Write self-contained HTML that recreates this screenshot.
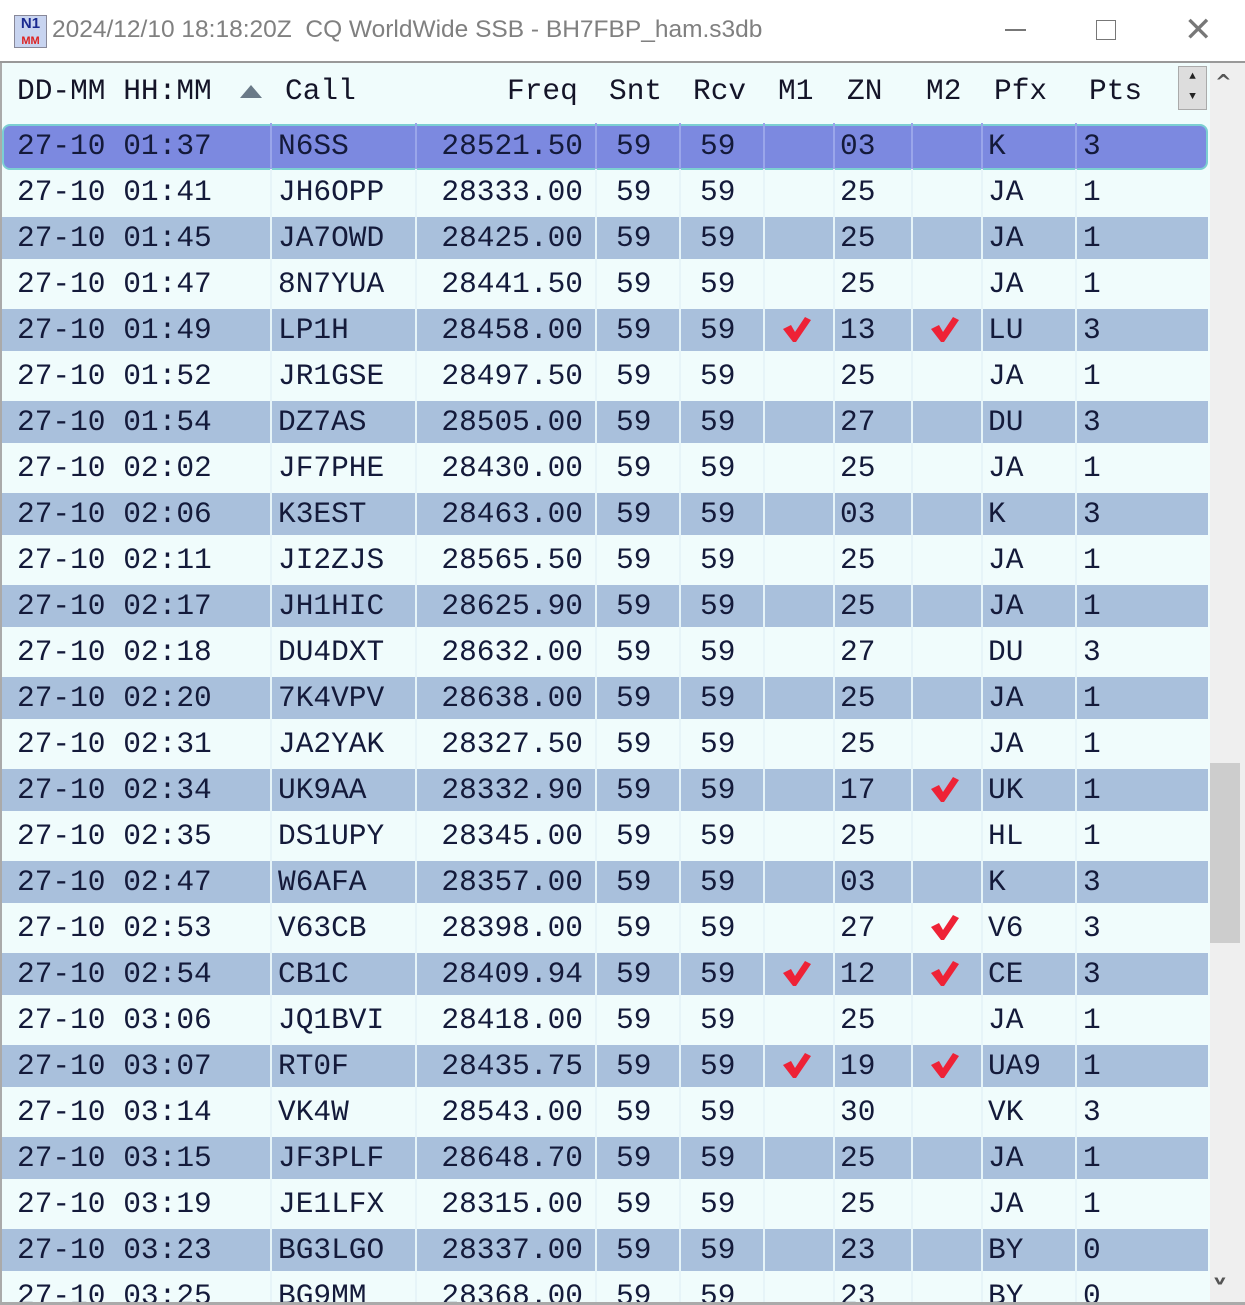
<!DOCTYPE html>
<html><head><meta charset="utf-8">
<style>
html,body{margin:0;width:1245px;height:1305px;overflow:hidden;}
body{background:#fff;position:relative;font-family:"Liberation Mono",monospace;}
.abs{position:absolute;}
.t{position:absolute;font-size:29.5px;color:#141a3a;line-height:46px;white-space:pre;}
.h{position:absolute;font-size:29.5px;color:#141428;top:68px;line-height:46px;white-space:pre;}
</style></head><body>
<div class="abs" style="left:0;top:0;width:1245px;height:62px;background:#fff;"></div>
<div class="abs" style="left:14px;top:15px;width:31px;height:31px;background:#c8d4f0;border:1px solid #889;font:bold 15px 'Liberation Sans',sans-serif;color:#1a2a90;line-height:16px;text-align:center;">N1<br><span style="color:#d22;font-size:11px">MM</span></div>
<div class="abs" style="left:52px;top:16px;font:24.5px 'Liberation Sans','DejaVu Sans',sans-serif;color:#808080;white-space:pre;">2024/12/10 18:18:20Z  CQ WorldWide SSB - BH7FBP_ham.s3db</div>
<div class="abs" style="left:1005px;top:29px;width:21px;height:1.5px;background:#777;"></div>
<div class="abs" style="left:1096px;top:20px;width:18px;height:18px;border:1.5px solid #777;"></div>
<div class="abs" style="left:1184px;top:10px;font:34px 'DejaVu Sans',sans-serif;color:#777;">✕</div>
<div class="abs" style="left:0;top:61px;width:1245px;height:2px;background:#999;"></div>
<div class="abs" style="left:0;top:63px;width:1210px;height:1242px;background:#f0fcfc;border-left:2px solid #aaa;box-sizing:border-box;"></div>
<div id="hdr"></div>
<div class="abs" style="left:240px;top:85px;width:0;height:0;border-left:11px solid transparent;border-right:11px solid transparent;border-bottom:13px solid #6a7a88;"></div>
<div class="abs" style="left:1178px;top:66px;width:27px;height:42px;background:#ddd;border:1px solid #aaa;font-size:11px;text-align:center;line-height:20px;color:#222;">▲<br>▼</div>
<div id="rows"></div>
<div class="abs" style="left:1210px;top:63px;width:35px;height:1242px;background:#efefef;"></div>
<div class="abs" style="left:1215px;top:70px;font:bold 20px 'DejaVu Sans',sans-serif;color:#555;">^</div>
<div class="abs" style="left:1210px;top:763px;width:30px;height:180px;background:#cdcdcd;"></div>
<div class="abs" style="left:1214px;top:1270px;font:bold 18px 'DejaVu Sans',sans-serif;color:#555;transform:scaleY(0.7);">v</div>
<div class="abs" style="left:0;top:1302px;width:1245px;height:3px;background:#aaa;"></div>
<script>
const times=["01:37","01:41","01:45","01:47","01:49","01:52","01:54","02:02","02:06","02:11","02:17","02:18","02:20","02:31","02:34","02:35","02:47","02:53","02:54","03:06","03:07","03:14","03:15","03:19","03:23","03:25"];
const calls=["N6SS","JH6OPP","JA7OWD","8N7YUA","LP1H","JR1GSE","DZ7AS","JF7PHE","K3EST","JI2ZJS","JH1HIC","DU4DXT","7K4VPV","JA2YAK","UK9AA","DS1UPY","W6AFA","V63CB","CB1C","JQ1BVI","RT0F","VK4W","JF3PLF","JE1LFX","BG3LGO","BG9MM"];
const freqs=["28521.50","28333.00","28425.00","28441.50","28458.00","28497.50","28505.00","28430.00","28463.00","28565.50","28625.90","28632.00","28638.00","28327.50","28332.90","28345.00","28357.00","28398.00","28409.94","28418.00","28435.75","28543.00","28648.70","28315.00","28337.00","28368.00"];
const zones=["03","25","25","25","13","25","27","25","03","25","25","27","25","25","17","25","03","27","12","25","19","30","25","25","23","23"];
const m1=[0,0,0,0,1,0,0,0,0,0,0,0,0,0,0,0,0,0,1,0,1,0,0,0,0,0];
const m2=[0,0,0,0,1,0,0,0,0,0,0,0,0,0,1,0,0,1,1,0,1,0,0,0,0,0];
const pfx=["K","JA","JA","JA","LU","JA","DU","JA","K","JA","JA","DU","JA","JA","UK","HL","K","V6","CE","JA","UA9","VK","JA","JA","BY","BY"];
const pts=["3","1","1","1","3","1","3","1","3","1","1","3","1","1","1","1","3","3","3","1","1","3","1","1","0","0"];
const heads=[["DD-MM HH:MM",17],["Call",285],["Freq",507],["Snt",609],["Rcv",693],["M1",778],["ZN",847],["M2",926],["Pfx",994],["Pts",1089]];
const hdr=document.getElementById('hdr');
heads.forEach(h=>{const d=document.createElement('div');d.className='h';d.style.left=h[1]+'px';d.textContent=h[0];


hdr.appendChild(d);});
const divs=[270,415,595,679,763,833,911,981,1075];
const R=document.getElementById('rows');
const top0=123,rh=46;
function txt(row,s,x,right){const d=document.createElement('div');d.className='t';d.textContent=s;
if(right){d.style.right=(1208-x)+'px';}else d.style.left=(x-2)+'px';d.style.top='0px';


row.appendChild(d);}
function chk(row,cx){const s=document.createElementNS('http://www.w3.org/2000/svg','svg');s.setAttribute('width','28');s.setAttribute('height','28');s.style.cssText='position:absolute;left:'+(cx-16)+'px;top:9px';
s.innerHTML='<path d="M0 13 L8 9 L12 16 L22 1 L28 4 L13 26 L10 26 Z" fill="#ee2236"/>';


row.appendChild(s);}
times.forEach((t,i)=>{
 const row=document.createElement('div');
 
 
 const y=top0+i*rh;
 let bg=i%2==0?'#a9c0dc':'#f0fcfc';
 row.style.cssText='position:absolute;left:2px;width:1206px;top:'+y+'px;height:'+rh+'px;overflow:visible;';
 const b=document.createElement('div');
 b.style.cssText='position:absolute;left:0;top:2px;width:1206px;height:42px;background:'+bg+';';
 if(i==0){b.style.cssText='position:absolute;left:0;top:1px;width:1202px;height:42px;background:#7c89e0;border:2px solid #7ccfd2;border-radius:8px;';}
 
 
 row.appendChild(b);
 divs.forEach(x=>{const l=document.createElement('div');l.style.cssText='position:absolute;left:'+(x-2)+'px;top:0;width:2px;height:46px;background:'+(i==0?'#9aa6ea':'#e6f4f8')+';';
 
 
 row.appendChild(l);});
 txt(row,'27-10 '+t,17);
 txt(row,calls[i],278);
 txt(row,freqs[i],583,true);
 txt(row,'59',616);
 txt(row,'59',700);
 txt(row,zones[i],840);
 txt(row,pfx[i],988);
 txt(row,pts[i],1083);
 if(m1[i])chk(row,797);
 if(m2[i])chk(row,945);
 R.appendChild(row);
});
</script>
</body></html>
